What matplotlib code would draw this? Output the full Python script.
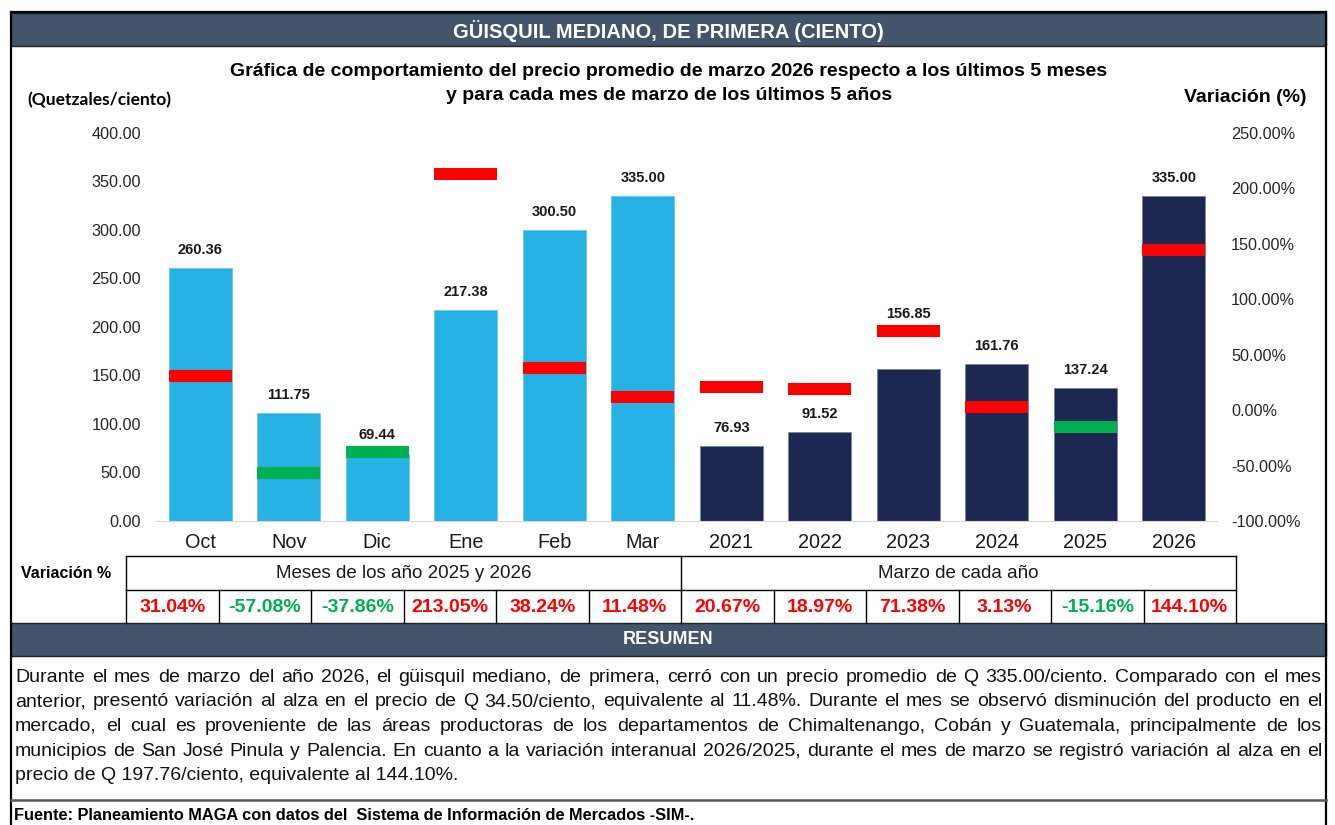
import matplotlib
matplotlib.use("Agg")
import matplotlib.pyplot as plt
from matplotlib.patches import Rectangle
import numpy as np

plt.rcParams['font.family'] = ['Liberation Sans', 'DejaVu Sans']

# Données
categorias = ["Oct", "Nov", "Dic", "Ene", "Feb", "Mar",
              "2021", "2022", "2023", "2024", "2025", "2026"]
precios = [260.36, 111.75, 69.44, 217.38, 300.50, 335.00,
           76.93, 91.52, 156.85, 161.76, 137.24, 335.00]
variaciones = [31.04, -57.08, -37.86, 213.05, 38.24, 11.48,
               20.67, 18.97, 71.38, 3.13, -15.16, 144.10]
grupos = ["Meses de los año 2025 y 2026", "Marzo de cada año"]

titulo = "GÜISQUIL MEDIANO, DE PRIMERA (CIENTO)"
subtitulo = ["Gráfica de comportamiento del precio promedio de marzo 2026 respecto a los últimos 5 meses",
             "y para cada mes de marzo de los últimos 5 años"]
resumen = [
    "Durante el mes de marzo del año 2026, el güisquil mediano, de primera, cerró con un precio promedio de Q 335.00/ciento. Comparado con el mes",
    "anterior, presentó variación al alza en el precio de Q 34.50/ciento, equivalente al 11.48%. Durante el mes se observó disminución del producto en el",
    "mercado, el cual es proveniente de las áreas productoras de los departamentos de Chimaltenango, Cobán y Guatemala, principalmente de los",
    "municipios de San José Pinula y Palencia. En cuanto a la variación interanual 2026/2025, durante el mes de marzo se registró variación al alza en el",
    "precio de Q 197.76/ciento, equivalente al 144.10%.",
]
fuente = "Fuente: Planeamiento MAGA con datos del  Sistema de Información de Mercados -SIM-."

AZUL = '#25B1E4'
MARINO = '#1D2852'
ROJO = '#FF0000'
VERDE = '#00B050'
PIZARRA = '#44546A'

W, H = 1335, 825
fig = plt.figure(figsize=(W / 100, H / 100), dpi=100)

# Fond en coordonnées pixels
bg = fig.add_axes([0, 0, 1, 1])
bg.set_xlim(0, W)
bg.set_ylim(H, 0)
bg.axis('off')

# Cadre extérieur et bandeaux
bg.add_patch(Rectangle((11, 13), 1315, 33, fc=PIZARRA, ec='#222222', lw=1))
bg.add_patch(Rectangle((11, 623), 1315, 33, fc=PIZARRA, ec='#222222', lw=1))
bg.plot([11, 11], [12, H], color='black', lw=1.6)
bg.plot([1326, 1326], [12, H], color='black', lw=1.6)
bg.plot([11, 1326], [12, 12], color='black', lw=1.6)
bg.text(668, 31, titulo, color='white', fontsize=14.5, fontweight='bold', ha='center', va='center')
bg.text(668, 639, "RESUMEN", color='white', fontsize=13, fontweight='bold', ha='center', va='center')

bg.text(669, 72, subtitulo[0], fontsize=14, fontweight='bold', ha='center', va='center')
bg.text(669, 95, subtitulo[1], fontsize=14, fontweight='bold', ha='center', va='center')
bg.text(27, 100, "(Quetzales/ciento)", fontsize=12.5, fontweight='bold', ha='left', va='center',
        family=['Lato', 'DejaVu Sans'])
bg.text(1307, 97, "Variación (%)", fontsize=14, fontweight='bold', ha='right', va='center')

# Tableau des variations
x0, x1, xm = 126, 1236, 681
y0, y1, y2 = 556, 590, 623
n = len(categorias)
cw = (x1 - x0) / n
bg.plot([x0, x1], [y0, y0], color='black', lw=1)
bg.plot([x0, x1], [y1, y1], color='black', lw=1)
bg.plot([x0, x0], [y0, y2], color='black', lw=1)
bg.plot([x1, x1], [y0, y2], color='black', lw=1)
bg.plot([xm, xm], [y0, y1], color='black', lw=1)
for k in range(1, n):
    bg.plot([x0 + k * cw] * 2, [y1, y2], color='black', lw=1)
bg.text((x0 + xm) / 2, (y0 + y1) / 2, grupos[0], fontsize=13.5, ha='center', va='center', color='#1a1a1a')
bg.text((xm + x1) / 2, (y0 + y1) / 2, grupos[1], fontsize=13.5, ha='center', va='center', color='#1a1a1a')
bg.text(21, 573, "Variación %", fontsize=11.5, fontweight='bold', ha='left', va='center')
for k, v in enumerate(variaciones):
    bg.text(x0 + (k + 0.5) * cw, (y1 + y2) / 2 + 1, f"{v:.2f}%", fontsize=14, fontweight='bold',
            ha='center', va='center', color=ROJO if v >= 0 else VERDE)

# Paragraphe justifié
renderer = fig.canvas.get_renderer()
left, right = 15, 1322
for i, linea in enumerate(resumen):
    y = 677 + 24.7 * i
    if i == len(resumen) - 1:
        bg.text(left, y, linea, fontsize=14, ha='left', va='center', color='#111111')
        continue
    palabras = linea.split(' ')
    objs = [bg.text(0, y, p, fontsize=14, ha='left', va='center', color='#111111') for p in palabras]
    anchos = [t.get_window_extent(renderer).width for t in objs]
    hueco = (right - left - sum(anchos)) / (len(palabras) - 1)
    xx = left
    for t, a in zip(objs, anchos):
        t.set_x(xx)
        xx += a + hueco

bg.plot([11, 1326], [800, 800], color='#595959', lw=1.8)
bg.text(14, 815, fuente, fontsize=11.8, fontweight='bold', ha='left', va='center')

# Graphique
ax = fig.add_axes([156 / W, 1 - 521 / H, (1218 - 156) / W, (521 - 133) / H])
ax.patch.set_alpha(0)
x = np.arange(n)
colores = [AZUL] * 6 + [MARINO] * 6
bordes = ['#6CCBEE'] * 6 + ['#7A82A0'] * 6
ax.bar(x, precios, width=0.71, color=colores, edgecolor=bordes, lw=0.6, zorder=2)
ax.set_xlim(-0.5, n - 0.5)
ax.set_ylim(0, 400)
ax.set_yticks(np.arange(0, 401, 50))
ax.set_yticklabels([f"{v:.2f}" for v in np.arange(0, 401, 50)])
ax.set_xticks(x)
ax.set_xticklabels(categorias)
ax.tick_params(axis='y', length=0, pad=10.8, labelsize=11.7, labelcolor='#262626')
ax.tick_params(axis='x', length=0, pad=9, labelsize=14.3, labelcolor='#1a1a1a')
for s in ['top', 'left', 'right']:
    ax.spines[s].set_visible(False)
ax.spines['bottom'].set_color('#D9D9D9')

ax2 = ax.twinx()
ax2.set_ylim(-100, 250)
ax2.set_yticks(np.arange(-100, 251, 50))
ax2.set_yticklabels([f"{v:.2f}%" for v in np.arange(-100, 251, 50)])
ax2.tick_params(axis='y', length=0, pad=9.4, labelsize=11.7, labelcolor='#262626')
for s in ax2.spines.values():
    s.set_visible(False)
mh = 12 * 350 / 388
v = np.array(variaciones)
ax2.bar(x, mh, bottom=v - mh / 2, width=0.71,
        color=[ROJO if p >= 0 else VERDE for p in variaciones], zorder=3)

# Étiquettes de valeurs
px = 388 / 400
for i, (p, q) in enumerate(zip(precios, variaciones)):
    marca = (q + 100) / 350 * 400
    if 0 <= (marca - p) * px < 40:
        base, off = marca, 17
    else:
        base, off = p, 18
    ax2.annotate(f"{p:.2f}", xy=(i, base), xycoords=ax.transData,
                 xytext=(0, off * 0.72), textcoords='offset points',
                 ha='center', va='center', fontsize=10.5, fontweight='bold', color='#1a1a1a')

fig.savefig("out.png", dpi=100)
